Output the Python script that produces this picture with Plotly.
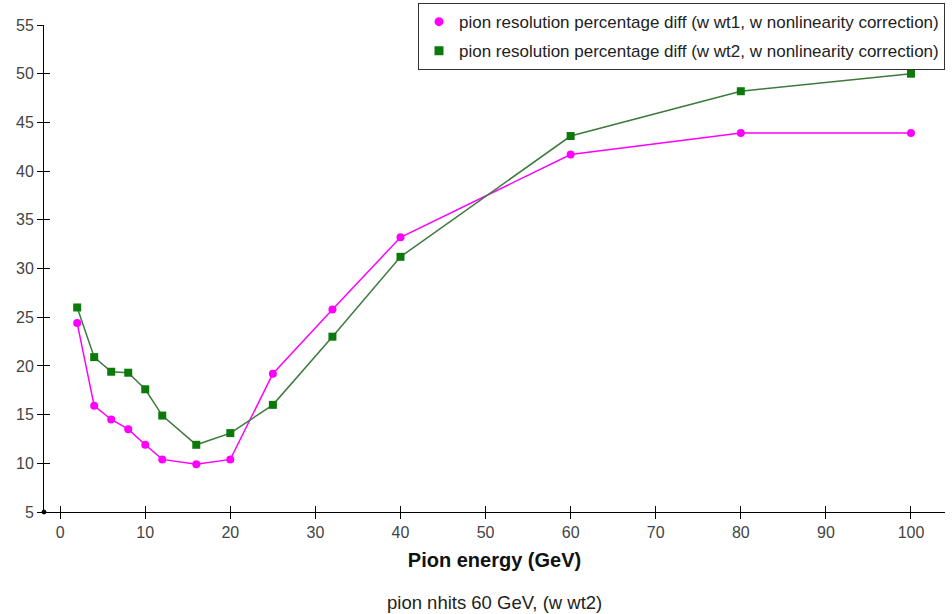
import plotly.graph_objects as go

# Beam energies (GeV)
energy = [2, 4, 6, 8, 10, 12, 16, 20, 25, 32, 40, 60, 80, 100]

# Resolution percentage difference for the two weighting schemes
diff_wt1 = [24.4, 15.9, 14.5, 13.5, 11.9, 10.4, 9.9, 10.4, 19.2, 25.8, 33.2, 41.7, 43.9, 43.9]
diff_wt2 = [26.0, 20.9, 19.4, 19.3, 17.6, 14.9, 11.9, 13.1, 16.0, 23.0, 31.2, 43.6, 48.2, 50.0]

name_wt1 = "pion resolution percentage diff (w wt1, w nonlinearity correction)"
name_wt2 = "pion resolution percentage diff (w wt2, w nonlinearity correction)"

x_ticks = [0, 10, 20, 30, 40, 50, 60, 70, 80, 90, 100]
y_ticks = [5, 10, 15, 20, 25, 30, 35, 40, 45, 50, 55]

x_range = [-1.9, 104.0]
y_range = [5, 55]

MAGENTA = "#ff00ff"
GREEN_MARK = "#0b7a0b"
GREEN_LINE = "#3c7a3c"
FONT = "Liberation Sans, Arial, sans-serif"

fig = go.Figure()

# data series
fig.add_trace(go.Scatter(
    x=energy, y=diff_wt1, mode="lines+markers", showlegend=False,
    line=dict(color=MAGENTA, width=1.5),
    marker=dict(symbol="circle", size=8, color=MAGENTA),
))
fig.add_trace(go.Scatter(
    x=energy, y=diff_wt2, mode="lines+markers", showlegend=False,
    line=dict(color=GREEN_LINE, width=1.5),
    marker=dict(symbol="square", size=8, color=GREEN_MARK),
))

# legend entries (marker only)
fig.add_trace(go.Scatter(
    x=[None], y=[None], mode="markers", name=name_wt1, legendgroup="a",
    marker=dict(symbol="circle", size=9, color=MAGENTA),
))
fig.add_trace(go.Scatter(
    x=[None], y=[None], mode="markers", name=name_wt2, legendgroup="b",
    marker=dict(symbol="square", size=9, color=GREEN_MARK),
))

# transparent trace on the overlay axes so their inner tick marks get drawn
fig.add_trace(go.Scatter(x=x_range, y=y_range, xaxis="x2", yaxis="y2",
                         mode="lines", line=dict(color="rgba(0,0,0,0)"),
                         showlegend=False, hoverinfo="skip"))

axis_common = dict(showgrid=False, zeroline=False, tickcolor="black",
                   tickwidth=1, ticklen=6)

fig.update_layout(
    width=952, height=614,
    margin=dict(l=44, r=7, t=25, b=102, autoexpand=False),
    paper_bgcolor="white", plot_bgcolor="white",
    font=dict(family=FONT, size=16, color="#444444"),
    xaxis=dict(range=x_range, tickvals=x_ticks, ticks="outside",
               showline=True, linecolor="black", linewidth=1,
               title=dict(text="<b>Pion energy (GeV)</b>",
                          font=dict(size=20, color="#111111"), standoff=12),
               **axis_common),
    yaxis=dict(range=y_range, tickvals=y_ticks, ticks="outside",
               showline=True, linecolor="black", linewidth=1,
               **axis_common),
    xaxis2=dict(range=x_range, tickvals=x_ticks, ticks="inside",
                overlaying="x", side="bottom", showticklabels=False,
                **axis_common),
    yaxis2=dict(range=y_range, tickvals=y_ticks, ticks="inside",
                overlaying="y", side="left", showticklabels=False,
                **axis_common),
    legend=dict(x=1, y=1.045, xanchor="right", yanchor="top",
                bordercolor="#333333", borderwidth=1, bgcolor="white",
                font=dict(size=17, color="#222222"), tracegroupgap=4,
                itemwidth=30),
    annotations=[dict(text="pion nhits 60 GeV, (w wt2)", xref="paper",
                      yref="paper", x=0.5, y=-0.186, xanchor="center",
                      yanchor="middle", showarrow=False,
                      font=dict(size=18.5, color="#222222"))],
    shapes=[dict(type="circle", xref="paper", yref="paper",
                 xsizemode="pixel", ysizemode="pixel", xanchor=0, yanchor=0,
                 x0=-2, x1=2, y0=-2, y1=2, fillcolor="black",
                 line=dict(color="black", width=1))],
)

fig.write_html("out.html")
